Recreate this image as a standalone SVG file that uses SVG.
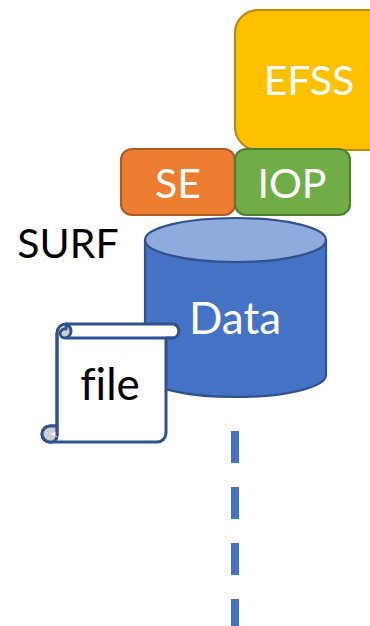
<svg xmlns="http://www.w3.org/2000/svg" width="370" height="626" viewBox="0 0 370 626">
<style>
text{font-family:Lato,"Open Sans",sans-serif;text-anchor:middle;font-variant-ligatures:none}
.w{fill:#fff;font-size:41px}
.b{fill:#fff;font-size:44px}
.k{fill:#000;font-size:41px}
.f{fill:#000;font-size:44px}
.sw{stroke-width:3;stroke-linejoin:round;stroke:#2f528f}
</style>
<rect width="370" height="626" fill="#fff"/>
<g id="connectors"><line x1="235" y1="431" x2="235" y2="626" stroke="#4472c4" stroke-width="8" stroke-dasharray="32 24"/></g>
<g id="efss"><rect x="235" y="10" width="160" height="140" rx="23" fill="#ffc000" stroke="#bc8c00" stroke-width="2.2"/><text class="w" x="309" y="95">EFSS</text></g>
<g id="se"><rect x="121" y="149" width="114" height="66" rx="11" fill="#ed7d31" stroke="#ae5a21" stroke-width="2.2"/><text class="w" x="178" y="198">SE</text></g>
<g id="iop"><rect x="235" y="149" width="115" height="66" rx="11" fill="#70ad47" stroke="#507e32" stroke-width="2.2"/><text class="w" x="292" y="198">IOP</text></g>
<g id="surf"><text class="k" x="68" y="258">SURF</text></g>
<g id="data"><path d="M145 240V375A90.500 22 0 0 0 326 375V240Z" fill="#4472c4" stroke="#2f528f" stroke-width="2.2"/><ellipse cx="235.500" cy="240" rx="90.500" ry="22" fill="#8faadc" stroke="#2f528f" stroke-width="2.200"/><text class="b" x="235" y="334">Data</text></g>
<g id="file">
<path class="sw" d="M57 333A9 9 0 0 1 66 324H174A7.500 7.500 0 0 1 174 338H166V433A9 9 0 0 1 157 442H50A8 8 0 0 1 50 426H57Z" fill="#fff"/>
<path class="sw" d="M66 338H174" fill="none"/>
<path class="sw" d="M66 324A8 8 0 0 1 71 331A7 7 0 0 1 65 338A5 5 0 0 1 60 333A5 5 0 0 1 66 329Z" fill="#cdcdcd" stroke-width="2"/>
<path class="sw" d="M50 426A8 8 0 1 0 50 442A6 6 0 0 0 57 436V426Z" fill="#cdcdcd"/>
<path d="M50 434L57 431V437Z" fill="#fff"/>
<path class="sw" d="M57 333V436" fill="none"/>
<text class="f" x="110" y="400">file</text>
</g>
</svg>
